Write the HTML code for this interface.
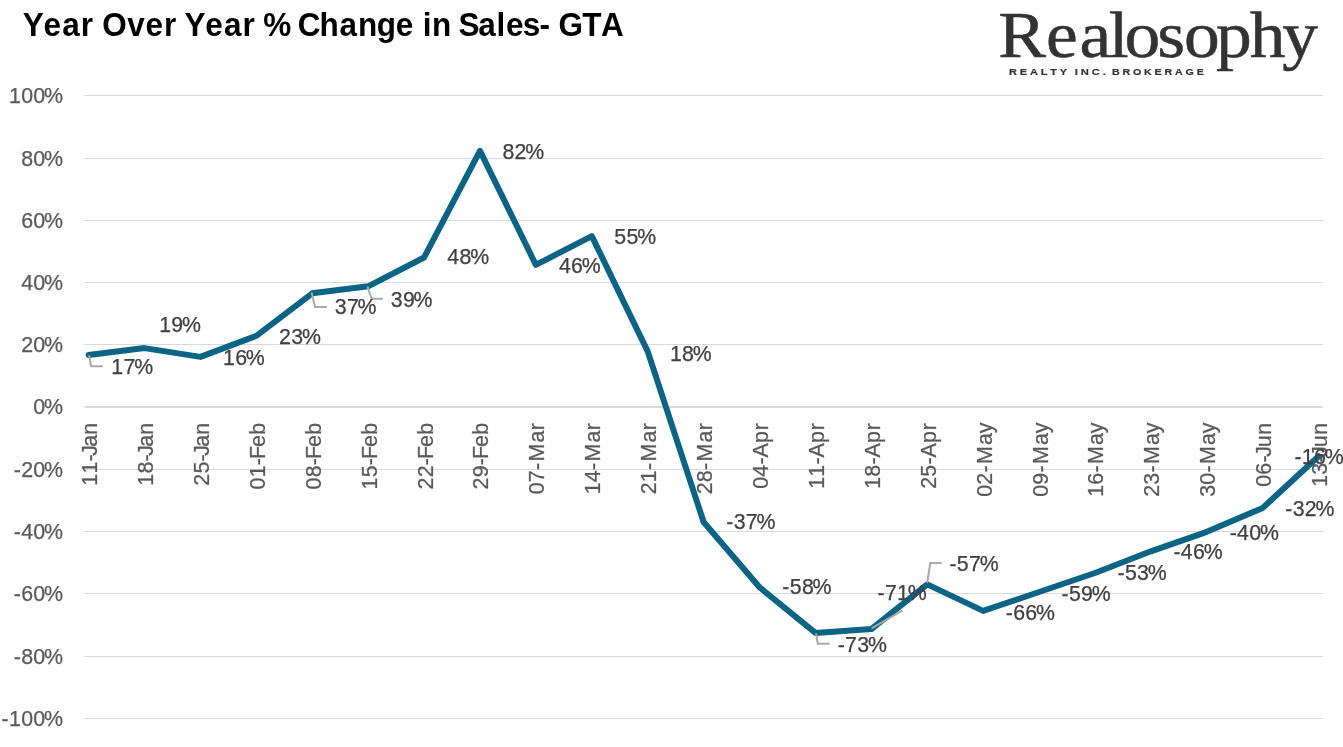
<!DOCTYPE html>
<html lang="en"><head><meta charset="utf-8"><title>Year Over Year % Change in Sales- GTA</title>
<style>html,body{margin:0;padding:0;background:#fff;overflow:hidden}svg{display:block}text{white-space:pre;font-kerning:none}</style></head>
<body><svg width="1343" height="747" viewBox="0 0 1343 747">
<rect width="1343" height="747" fill="#fff"/>
<g fill="#d9d9d9">
<rect x="84.4" y="95" width="1238.4" height="1"/>
<rect x="84.4" y="158" width="1238.4" height="1"/>
<rect x="84.4" y="220" width="1238.4" height="1"/>
<rect x="84.4" y="282" width="1238.4" height="1"/>
<rect x="84.4" y="344" width="1238.4" height="1"/>
<rect x="84.4" y="469" width="1238.4" height="1"/>
<rect x="84.4" y="531" width="1238.4" height="1"/>
<rect x="84.4" y="593" width="1238.4" height="1"/>
<rect x="84.4" y="656" width="1238.4" height="1"/>
<rect x="84.4" y="718" width="1238.4" height="1"/>
</g>
<rect x="84.4" y="406" width="1238.4" height="2" fill="#d9d9d9"/>
<g font-family="'Liberation Sans', sans-serif" font-size="21.4" fill="#595959" stroke="#595959" stroke-width="0.25">
<text x="8.98 21.15 33.31 44.01" y="103.00">100%</text>
<text x="21.15 33.31 44.01" y="166.00">80%</text>
<text x="21.15 33.31 44.01" y="228.00">60%</text>
<text x="21.15 33.31 44.01" y="290.00">40%</text>
<text x="21.15 33.31 44.01" y="352.00">20%</text>
<text x="33.31 44.01" y="414.00">0%</text>
<text x="13.78 21.15 33.31 44.01" y="477.00">-20%</text>
<text x="13.78 21.15 33.31 44.01" y="539.00">-40%</text>
<text x="13.78 21.15 33.31 44.01" y="601.00">-60%</text>
<text x="13.78 21.15 33.31 44.01" y="664.00">-80%</text>
<text x="1.61 8.98 21.15 33.31 44.01" y="726.00">-100%</text>
<text transform="translate(97.10 485.83) rotate(-90)" x="0.13 12.30 24.44 30.15 39.13 51.18" y="0">11-Jan</text>
<text transform="translate(153.01 485.83) rotate(-90)" x="0.13 12.30 24.44 30.15 39.13 51.18" y="0">18-Jan</text>
<text transform="translate(208.92 485.83) rotate(-90)" x="0.13 12.30 24.44 30.15 39.13 51.18" y="0">25-Jan</text>
<text transform="translate(264.83 489.65) rotate(-90)" x="0.13 12.30 24.44 30.65 42.72 55.00" y="0">01-Feb</text>
<text transform="translate(320.74 489.65) rotate(-90)" x="0.13 12.30 24.44 30.65 42.72 55.00" y="0">08-Feb</text>
<text transform="translate(376.65 489.65) rotate(-90)" x="0.13 12.30 24.44 30.65 42.72 55.00" y="0">15-Feb</text>
<text transform="translate(432.56 489.65) rotate(-90)" x="0.13 12.30 24.44 30.65 42.72 55.00" y="0">22-Feb</text>
<text transform="translate(488.47 489.65) rotate(-90)" x="0.13 12.30 24.44 30.65 42.72 55.00" y="0">29-Feb</text>
<text transform="translate(544.38 494.46) rotate(-90)" x="0.13 12.30 24.44 33.02 51.99 64.31" y="0">07-Mar</text>
<text transform="translate(600.29 494.46) rotate(-90)" x="0.13 12.30 24.44 33.02 51.99 64.31" y="0">14-Mar</text>
<text transform="translate(656.20 494.46) rotate(-90)" x="0.13 12.30 24.44 33.02 51.99 64.31" y="0">21-Mar</text>
<text transform="translate(712.11 494.46) rotate(-90)" x="0.13 12.30 24.44 33.02 51.99 64.31" y="0">28-Mar</text>
<text transform="translate(768.02 488.94) rotate(-90)" x="0.13 12.30 24.44 31.48 45.92 58.79" y="0">04-Apr</text>
<text transform="translate(823.93 488.94) rotate(-90)" x="0.13 12.30 24.44 31.48 45.92 58.79" y="0">11-Apr</text>
<text transform="translate(879.84 488.94) rotate(-90)" x="0.13 12.30 24.44 31.48 45.92 58.79" y="0">18-Apr</text>
<text transform="translate(935.75 488.94) rotate(-90)" x="0.13 12.30 24.44 31.48 45.92 58.79" y="0">25-Apr</text>
<text transform="translate(991.66 496.95) rotate(-90)" x="0.13 12.30 24.44 33.02 51.99 63.77" y="0">02-May</text>
<text transform="translate(1047.57 496.95) rotate(-90)" x="0.13 12.30 24.44 33.02 51.99 63.77" y="0">09-May</text>
<text transform="translate(1103.48 496.95) rotate(-90)" x="0.13 12.30 24.44 33.02 51.99 63.77" y="0">16-May</text>
<text transform="translate(1159.39 496.95) rotate(-90)" x="0.13 12.30 24.44 33.02 51.99 63.77" y="0">23-May</text>
<text transform="translate(1215.30 496.95) rotate(-90)" x="0.13 12.30 24.44 33.02 51.99 63.77" y="0">30-May</text>
<text transform="translate(1271.21 486.95) rotate(-90)" x="0.13 12.30 24.44 30.15 39.68 52.29" y="0">06-Jun</text>
<text transform="translate(1327.12 486.95) rotate(-90)" x="0.13 12.30 24.44 30.15 39.68 52.29" y="0">13-Jun</text>
</g>
<polyline points="88.60,355.00 144.51,348.10 200.42,356.90 256.33,335.80 312.24,293.30 368.15,286.30 424.06,257.50 479.97,150.90 535.88,264.90 591.79,236.10 647.70,351.40 703.61,522.00 759.52,587.30 815.43,632.90 871.34,629.10 927.25,584.40 983.16,610.90 1039.07,592.00 1094.98,573.00 1150.89,551.30 1206.80,531.80 1262.71,507.90 1318.62,456.20" fill="none" stroke="#0c6485" stroke-width="6.0" stroke-linejoin="round" stroke-linecap="round"/>
<g fill="none" stroke="#a9a9a9" stroke-width="2.0">
<polyline points="89.1,355.3 91.1,366.2 102.8,366.2"/>
<polyline points="311.5,292.5 315.1,306.9 326.8,306.9"/>
<polyline points="367.5,286.5 371.6,298.8 382.9,298.8"/>
<polyline points="816,633.3 817.8,643.7 829.5,643.7"/>
<polyline points="871.6,628.4 902.6,610.3"/>
<polyline points="927.2,583 930.3,563 941.6,563"/>
</g>
<g font-family="'Liberation Sans', sans-serif" font-size="21.3" fill="#404040" stroke="#404040" stroke-width="0.25">
<text x="111.28 123.45 134.16" y="373.90">17%</text>
<text x="159.18 171.35 182.06" y="331.80">19%</text>
<text x="222.98 235.15 245.86" y="364.60">16%</text>
<text x="279.08 291.24 301.96" y="343.50">23%</text>
<text x="334.75 346.91 357.62" y="314.20">37%</text>
<text x="390.75 402.91 413.62" y="307.10">39%</text>
<text x="447.25 459.41 470.13" y="264.00">48%</text>
<text x="502.40 514.56 525.28" y="159.40">82%</text>
<text x="558.95 571.11 581.83" y="272.50">46%</text>
<text x="614.37 626.53 637.25" y="244.20">55%</text>
<text x="669.88 682.05 692.76" y="360.70">18%</text>
<text x="726.25 733.63 745.79 756.51" y="529.30">-37%</text>
<text x="782.35 789.73 801.89 812.61" y="594.20">-58%</text>
<text x="837.65 845.03 857.19 867.91" y="651.80">-73%</text>
<text x="877.55 884.93 897.09 907.81" y="599.70">-71%</text>
<text x="949.45 956.83 968.99 979.71" y="570.70">-57%</text>
<text x="1005.75 1013.13 1025.29 1036.01" y="619.50">-66%</text>
<text x="1061.55 1068.93 1081.09 1091.81" y="600.60">-59%</text>
<text x="1117.55 1124.93 1137.09 1147.81" y="580.40">-53%</text>
<text x="1173.45 1180.83 1192.99 1203.71" y="558.50">-46%</text>
<text x="1229.65 1237.03 1249.19 1259.91" y="540.00">-40%</text>
<text x="1285.25 1292.63 1304.79 1315.51" y="516.20">-32%</text>
<text x="1294.45 1301.83 1313.99 1324.71" y="463.80">-16%</text>
</g>
<text transform="scale(0.94 1)" x="24.22 46.39 66.19 85.85 99.26 108.80 135.34 154.73 174.58 187.99 196.28 218.45 238.25 257.90 271.31 280.04 309.24 316.80 339.83 361.20 380.74 400.81 421.14 440.29 449.65 459.61 480.33 487.69 508.73 528.07 538.28 556.20 573.94 585.43 594.20 619.48 639.48" y="35.90" font-family="'Liberation Sans', sans-serif" font-weight="700" font-size="33.5" fill="#000">Year Over Year % Change in Sales- GTA</text>
<text transform="scale(1.1 1)" x="907.57 950.89 981.42 1007.93 1022.30 1052.10 1076.43 1105.50 1136.22 1165.71" y="56.5" font-family="'Liberation Serif', serif" font-size="65" fill="#333333" stroke="#333333" stroke-width="0.5">Realosophy</text>
<text transform="translate(1008.99 75.20) scale(1.1148 1)" font-family="'Liberation Sans', sans-serif" font-weight="700" font-size="9.8" fill="#333333" stroke="#333333" stroke-width="0.2" letter-spacing="2.6">REALTY</text>
<text transform="translate(1074.67 75.20) scale(1.1389 1)" font-family="'Liberation Sans', sans-serif" font-weight="700" font-size="9.8" fill="#333333" stroke="#333333" stroke-width="0.2" letter-spacing="2.6">INC.</text>
<text transform="translate(1112.01 75.20) scale(1.0866 1)" font-family="'Liberation Sans', sans-serif" font-weight="700" font-size="9.8" fill="#333333" stroke="#333333" stroke-width="0.2" letter-spacing="2.6">BROKERAGE</text>
</svg></body></html>
